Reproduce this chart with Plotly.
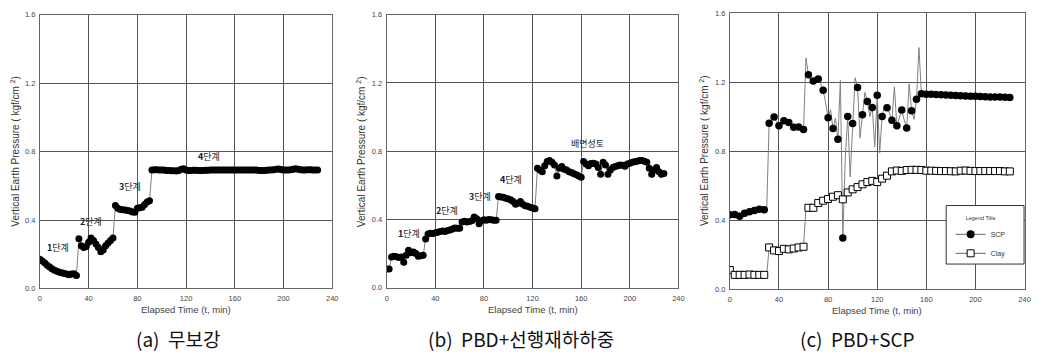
import plotly.graph_objects as go

# ---------------------------------------------------------------------------
# Elapsed time (min), sampled every 2 minutes
# ---------------------------------------------------------------------------
time_min = list(range(0, 229, 2))

# (a) 무보강 - vertical earth pressure (kgf/cm2)
pressure_a = [
    0.170, 0.160, 0.148, 0.135, 0.125, 0.115, 0.106, 0.100, 0.095, 0.092,
    0.088, 0.085, 0.080, 0.084, 0.086, 0.076,
    0.290, 0.250, 0.240, 0.245, 0.270, 0.295, 0.280, 0.260, 0.240, 0.215,
    0.225, 0.250, 0.265, 0.280, 0.295,
    0.485, 0.468, 0.462, 0.460, 0.458, 0.455, 0.452, 0.447, 0.445, 0.468,
    0.472, 0.475, 0.490, 0.505, 0.513,
    0.692, 0.694, 0.694, 0.693, 0.693, 0.692, 0.690, 0.689, 0.688, 0.688,
    0.687, 0.690, 0.697, 0.700, 0.692,
    0.690, 0.690, 0.691, 0.691, 0.690, 0.690, 0.690, 0.691, 0.691, 0.692,
    0.692, 0.692, 0.692, 0.693, 0.693, 0.692, 0.692, 0.692, 0.692, 0.692,
    0.692, 0.692, 0.693, 0.693, 0.692, 0.692, 0.692, 0.692, 0.692, 0.690,
    0.690, 0.690, 0.691, 0.692, 0.692, 0.694, 0.697, 0.698, 0.695, 0.693,
    0.692, 0.693, 0.694, 0.697, 0.700, 0.697, 0.694, 0.693, 0.693, 0.694,
    0.694, 0.693, 0.693, 0.693,
]

# (b) PBD+선행재하하중
pressure_b = [
    0.110, 0.110, 0.180, 0.185, 0.182, 0.178, 0.180, 0.150, 0.190, 0.220,
    0.205, 0.210, 0.200, 0.185, 0.188, 0.190,
    0.285, 0.315, 0.320, 0.318, 0.322, 0.325, 0.330, 0.332, 0.330, 0.335,
    0.338, 0.345, 0.350, 0.348, 0.348,
    0.385, 0.390, 0.386, 0.388, 0.392, 0.415, 0.405, 0.375, 0.392, 0.398,
    0.395, 0.400, 0.398, 0.395, 0.395,
    0.535, 0.532, 0.530, 0.525, 0.520, 0.515, 0.505, 0.490, 0.495, 0.505,
    0.490, 0.480, 0.478, 0.472, 0.468, 0.463,
    0.700, 0.690, 0.680, 0.715, 0.740, 0.745, 0.735, 0.720, 0.655, 0.700,
    0.710, 0.695, 0.690, 0.680, 0.675, 0.668, 0.662, 0.655, 0.648, 0.740,
    0.725, 0.715, 0.728, 0.730, 0.725, 0.705, 0.665, 0.735, 0.720, 0.665,
    0.690, 0.705, 0.710, 0.715, 0.720, 0.718, 0.712, 0.725, 0.730, 0.735,
    0.738, 0.742, 0.745, 0.745, 0.742, 0.735, 0.700, 0.665, 0.690, 0.705,
    0.680, 0.665, 0.670,
]

# (c) PBD+SCP - SCP column and surrounding clay
pressure_scp = [
    0.430, 0.430, 0.432, 0.428, 0.422, 0.430, 0.440, 0.445, 0.448, 0.452,
    0.455, 0.458, 0.462, 0.461, 0.460, 0.460,
    0.961, 0.980, 0.998, 0.970, 0.946, 0.960, 0.976, 0.970, 0.965, 0.950,
    0.938, 0.940, 0.940, 0.932, 0.925,
    1.340, 1.243, 1.200, 1.206, 1.230, 1.217, 1.190, 1.153, 1.080, 0.993,
    1.040, 0.931, 0.990, 0.868, 1.210, 0.296, 0.760, 1.000, 0.650, 0.959,
    1.225, 1.168, 0.876, 1.010, 1.140, 1.087, 1.000, 1.053, 0.823, 1.123,
    0.789, 1.000, 1.060, 1.051, 1.020, 0.978, 1.172, 0.947, 1.000, 1.038,
    0.980, 0.934, 1.190, 1.034, 0.983, 1.100, 1.400, 1.132,
    1.131, 1.130, 1.130, 1.129, 1.129, 1.128, 1.127, 1.126, 1.126, 1.125,
    1.124, 1.123, 1.123, 1.122, 1.121, 1.120, 1.120, 1.119, 1.119, 1.118,
    1.118, 1.117, 1.117, 1.116, 1.116, 1.115, 1.115, 1.114, 1.114, 1.113,
    1.113, 1.113, 1.112, 1.112, 1.111, 1.111,
]

pressure_clay = [
    0.110, 0.095, 0.082, 0.082, 0.082, 0.082, 0.082, 0.083, 0.084, 0.083,
    0.082, 0.082, 0.082, 0.082, 0.082, 0.082,
    0.241, 0.232, 0.224, 0.222, 0.220, 0.226, 0.233, 0.232, 0.230, 0.232,
    0.235, 0.238, 0.241, 0.243, 0.245,
    0.470, 0.471, 0.470, 0.471, 0.485, 0.499, 0.505, 0.512, 0.517, 0.522,
    0.528, 0.535, 0.540, 0.544, 0.535, 0.520, 0.540, 0.560, 0.570, 0.578,
    0.585, 0.591, 0.600, 0.607, 0.614, 0.620, 0.624, 0.627, 0.624, 0.620,
    0.630, 0.640, 0.648, 0.657, 0.670, 0.682, 0.685, 0.687, 0.686, 0.685,
    0.688, 0.690, 0.690, 0.691, 0.691, 0.691, 0.690, 0.690, 0.688, 0.686,
    0.686, 0.686, 0.686, 0.685, 0.684, 0.684, 0.684, 0.684, 0.684, 0.683,
    0.683, 0.682, 0.684, 0.686, 0.687, 0.687, 0.686, 0.685, 0.684, 0.684,
    0.684, 0.684, 0.684, 0.684, 0.684, 0.684, 0.684, 0.684, 0.684, 0.684,
    0.683, 0.682, 0.682, 0.682,
]

# Loading-stage labels: (text, time, pressure)
stage_labels_a = [("<b>1</b>단계", 15, 0.24), ("<b>2</b>단계", 42, 0.393),
                  ("<b>3</b>단계", 74, 0.593), ("<b>4</b>단계", 139, 0.77)]
stage_labels_b = [("<b>1</b>단계", 18, 0.32), ("<b>2</b>단계", 50, 0.453),
                  ("<b>3</b>단계", 77, 0.533), ("<b>4</b>단계", 102.5, 0.634),
                  ("배면성토", 165, 0.844)]

x_ticks = [0, 40, 80, 120, 160, 200, 240]
y_ticks = [0.0, 0.4, 0.8, 1.2, 1.6]
captions = ["(a)  무보강", "(b)  PBD+선행재하하중", "(c)  PBD+SCP"]
caption_centers = [178, 523, 862]

W, H = 1038, 361
# Plot areas in pixels: (left, right, top, bottom)
areas = [(38.2, 332.8, 11.0, 291.7),
         (387.7, 681.7, 11.0, 291.0),
         (733.5, 1030.5, 9.3, 292.3)]

TICK_FONT = dict(family="Liberation Sans Narrow, Liberation Sans, Arial", size=7.5, color="#444")
LINE_GRAY = "#808080"

fig = go.Figure()

# (a) and (b): dense records, marker at every sample
for i, vals in enumerate([pressure_a, pressure_b]):
    ax = "" if i == 0 else str(i + 1)
    fig.add_trace(go.Scatter(
        x=time_min, y=vals, mode="lines+markers",
        line=dict(color=LINE_GRAY, width=1),
        marker=dict(symbol="circle", size=7, color="black"),
        xaxis="x" + ax, yaxis="y" + ax, showlegend=False))

# (c): continuous record as a line, markers every 4 minutes
for vals in [pressure_scp, pressure_clay]:
    fig.add_trace(go.Scatter(
        x=time_min, y=vals, mode="lines",
        line=dict(color=LINE_GRAY, width=1),
        xaxis="x3", yaxis="y3", showlegend=False, hoverinfo="skip"))

fig.add_trace(go.Scatter(
    x=time_min[::2], y=pressure_scp[::2], mode="markers",
    marker=dict(symbol="circle", size=7.5, color="black"),
    xaxis="x3", yaxis="y3", showlegend=False))
fig.add_trace(go.Scatter(
    x=time_min[::2], y=pressure_clay[::2], mode="markers",
    marker=dict(symbol="square", size=7, color="white",
                line=dict(color="black", width=1)),
    xaxis="x3", yaxis="y3", showlegend=False))

# Legend entries for panel (c)
fig.add_trace(go.Scatter(
    x=[None], y=[None], mode="lines+markers", name="SCP",
    line=dict(color="#666", width=1),
    marker=dict(symbol="circle", size=8, color="black"),
    xaxis="x3", yaxis="y3"))
fig.add_trace(go.Scatter(
    x=[None], y=[None], mode="lines+markers", name="Clay",
    line=dict(color="#666", width=1),
    marker=dict(symbol="square", size=7, color="white",
                line=dict(color="black", width=1)),
    xaxis="x3", yaxis="y3"))

layout = dict(
    width=W, height=H,
    margin=dict(l=0, r=0, t=0, b=0),
    paper_bgcolor="white", plot_bgcolor="white",
    showlegend=True,
    legend=dict(
        x=956 / W, y=1 - 214 / H, xanchor="left", yanchor="top",
        bgcolor="rgba(0,0,0,0)", borderwidth=0,
        font=dict(family="Liberation Sans, Arial", size=7, color="#333"),
        title=dict(text="Legend Title", side="top center",
                   font=dict(family="Liberation Sans, Arial", size=5.5, color="#333")),
        itemwidth=30, tracegroupgap=0,
    ),
)

annotations = []
shapes = []
for i, (l, r, t, b) in enumerate(areas):
    ax = "" if i == 0 else str(i + 1)
    layout["xaxis" + ax] = dict(
        domain=[l / W, r / W], range=[0, 240], anchor="y" + ax,
        tickvals=x_ticks, ticktext=[str(v) for v in x_ticks],
        ticks="outside", ticklen=3, tickcolor="rgba(0,0,0,0)",
        tickfont=TICK_FONT, showgrid=True, gridcolor="#555", gridwidth=1,
        showline=True, linecolor="#666", linewidth=1, mirror=True,
        zeroline=False, fixedrange=True)
    layout["yaxis" + ax] = dict(
        domain=[1 - b / H, 1 - t / H], range=[0, 1.6], anchor="x" + ax,
        tickvals=y_ticks, ticktext=[f"{v:.1f}" for v in y_ticks],
        ticks="outside", ticklen=2, tickcolor="rgba(0,0,0,0)",
        tickfont=TICK_FONT, showgrid=True, gridcolor="#555", gridwidth=1,
        showline=True, linecolor="#666", linewidth=1, mirror=True,
        zeroline=False, fixedrange=True)

    # Axis titles
    annotations.append(dict(
        text="Vertical Earth Pressure ( kgf/cm <sup>2</sup>)",
        x=(l - 26) / W, y=1 - ((t + b) / 2) / H, xref="paper", yref="paper",
        textangle=-90, showarrow=False, xanchor="center", yanchor="middle",
        font=dict(family="Liberation Sans, Arial", size=10, color="#333")))
    annotations.append(dict(
        text="Elapsed Time (t, min)",
        x=((l + r) / 2) / W, y=1 - (b + 22) / H, xref="paper", yref="paper",
        showarrow=False, xanchor="center", yanchor="middle",
        font=dict(family="Liberation Sans Narrow, Liberation Sans, Arial", size=9.5, color="#444")))
    # Caption
    annotations.append(dict(
        text=captions[i],
        x=caption_centers[i] / W, y=1 - 343 / H, xref="paper", yref="paper",
        showarrow=False, xanchor="center", yanchor="middle",
        font=dict(family="Noto Sans CJK KR", size=19, color="#111")))

for ax, labels in [("", stage_labels_a), ("2", stage_labels_b)]:
    for text, tx, ty in labels:
        annotations.append(dict(
            text=text, x=tx, y=ty, xref="x" + ax, yref="y" + ax,
            showarrow=False, xanchor="center", yanchor="middle",
            font=dict(family="Noto Sans CJK KR", size=9, color="#222")))

# Frame of the legend in panel (c)
shapes.append(dict(
    type="rect", xref="paper", yref="paper",
    x0=951.5 / W, x1=1030 / W, y0=1 - 266.7 / H, y1=1 - 206.7 / H,
    line=dict(color="#333", width=1), fillcolor="white", layer="above"))

layout["annotations"] = annotations
layout["shapes"] = shapes
fig.update_layout(**layout)

fig.write_html("out.html")
